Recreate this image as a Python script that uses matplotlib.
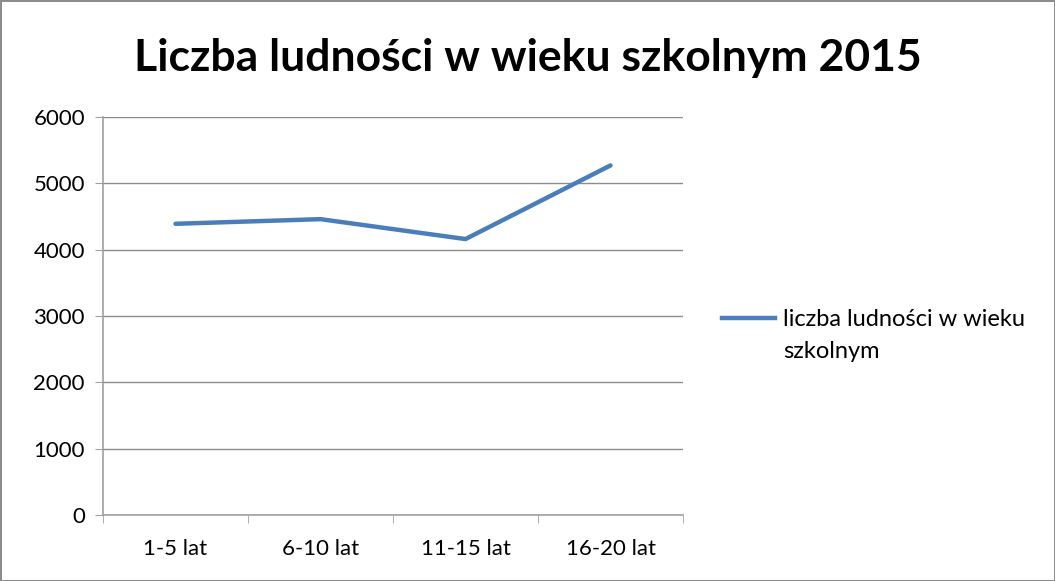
import matplotlib
matplotlib.use("Agg")
import matplotlib.pyplot as plt
from matplotlib.lines import Line2D

categories = ["1-5 lat", "6-10 lat", "11-15 lat", "16-20 lat"]
values = [4390, 4460, 4160, 5270]
series_name = "liczba ludności w wieku szkolnym"
title = "Liczba ludności w wieku szkolnym 2015"

plt.rcParams['font.family'] = ['Lato', 'DejaVu Sans']

fig = plt.figure(figsize=(10.55, 5.81), dpi=100)
fig.patch.set_facecolor('white')
fig.patch.set_edgecolor('#8c8c8c')
fig.patch.set_linewidth(2)

ax = fig.add_axes([103/1055, 1 - 515/581, 580/1055, (515-117)/581])
x = [i + 0.5 for i in range(len(categories))]
line, = ax.plot(x, values, color='#4a7ebb', linewidth=3.2, solid_capstyle='round',
                solid_joinstyle='round')

ax.set_xlim(0, len(categories))
ax.set_ylim(0, 6000)
ax.set_yticks(range(0, 6001, 1000))
ax.set_xticks(x)
ax.set_xticklabels(categories)
ax.set_xticks(range(0, len(categories) + 1), minor=True)
ax.tick_params(axis='x', which='major', length=0, pad=17, labelsize=16, colors='#000000')
ax.tick_params(axis='x', which='minor', length=6, color='#a0a0a0', direction='out')
ax.tick_params(axis='y', length=6, color='#a0a0a0', direction='out', pad=7, labelsize=16)
ax.grid(axis='y', color='#8c8c8c', linewidth=1)
ax.set_axisbelow(True)
for s in ['top', 'right']:
    ax.spines[s].set_visible(False)
for s in ['left', 'bottom']:
    ax.spines[s].set_color('#a0a0a0')
    ax.spines[s].set_linewidth(1.2)

fig.text(0.5, 1 - 58/581, title, ha='center', va='center', fontsize=32, fontweight='bold')

words = series_name.split(' ')
first_line = ' '.join(words[:-1])
second_line = words[-1]
ax.legend([Line2D([0], [0], color='#4a7ebb', linewidth=3.2)], [first_line],
          loc='center left', bbox_to_anchor=(722/1055, 1 - 320/581),
          bbox_transform=fig.transFigure, frameon=False, fontsize=17,
          handlelength=2.25, handletextpad=0.35, borderpad=0, borderaxespad=0)
fig.text(783/1055, 1 - 352/581, second_line, ha='left', va='center', fontsize=17)

fig.savefig("out.png", dpi=100, facecolor=fig.get_facecolor(), edgecolor=fig.get_edgecolor())
